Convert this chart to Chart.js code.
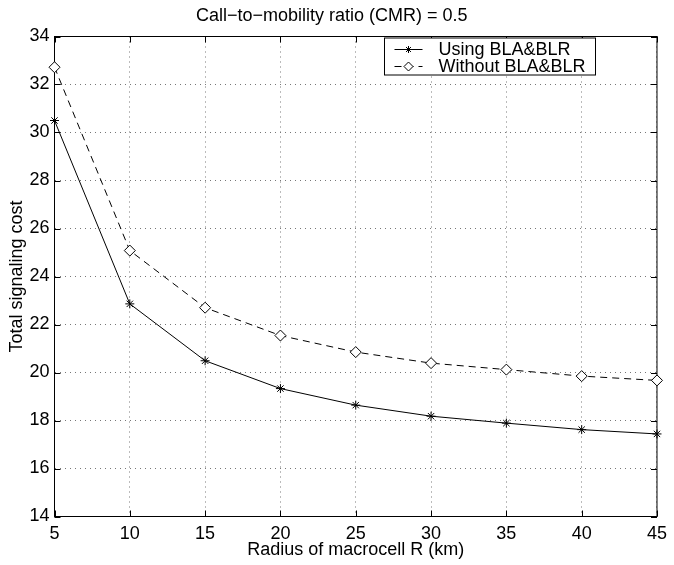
<!DOCTYPE html>
<html><head><meta charset="utf-8">
<script src="https://cdn.jsdelivr.net/npm/chart.js@4/dist/chart.umd.min.js"></script>
<style>html,body{margin:0;padding:0;background:#fff}</style>
</head><body>
<canvas id="c" width="674" height="565"></canvas>
<script>
// ---- data ----
const radius = [5, 10, 15, 20, 25, 30, 35, 40, 45];
const usingBLA = [30.5, 22.86, 20.49, 19.33, 18.64, 18.18, 17.89, 17.62, 17.44];
const withoutBLA = [32.72, 25.08, 22.7, 21.54, 20.85, 20.39, 20.12, 19.85, 19.67];
const xTicks = [5, 10, 15, 20, 25, 30, 35, 40, 45];
const yTicks = [14, 16, 18, 20, 22, 24, 26, 28, 30, 32, 34];
const seriesNames = ['Using BLA&BLR', 'Without BLA&BLR'];
const titleText = 'Call\u2212to\u2212mobility ratio (CMR) = 0.5';
const xTitle = 'Radius of macrocell R (km)';
const yTitle = 'Total signaling cost';

const FONT = '"Liberation Sans", Arial, Helvetica, sans-serif';
const FS = 18;

const framePlugin = {
  id: 'frame',
  beforeDatasetsDraw(chart) {
    const {ctx, chartArea: a, scales} = chart;
    ctx.save();
    ctx.strokeStyle = '#000';
    ctx.lineWidth = 1;
    ctx.setLineDash([]);
    ctx.strokeRect(a.left, a.top, a.right - a.left, a.bottom - a.top);
    const tl = 6;
    ctx.beginPath();
    scales.x.ticks.forEach(t => {
      const px = Math.round(scales.x.getPixelForValue(t.value)) + 0.5;
      ctx.moveTo(px, a.bottom); ctx.lineTo(px, a.bottom - tl);
      ctx.moveTo(px, a.top); ctx.lineTo(px, a.top + tl);
    });
    scales.y.ticks.forEach(t => {
      const py = Math.round(scales.y.getPixelForValue(t.value)) + 0.5;
      ctx.moveTo(a.left, py); ctx.lineTo(a.left + tl, py);
      ctx.moveTo(a.right, py); ctx.lineTo(a.right - tl, py);
    });
    ctx.stroke();
    ctx.restore();
  }
};

const legendPlugin = {
  id: 'boxLegend',
  afterDatasetsDraw(chart) {
    const {ctx, chartArea: a} = chart;
    const bx = a.right - 61.5, by = a.top + 1.5, bw = 211, bh = 37;
    const left = Math.round(bx - bw) + 0.5;
    ctx.save();
    ctx.fillStyle = '#fff';
    ctx.fillRect(left, by, bw, bh);
    ctx.strokeStyle = '#000';
    ctx.lineWidth = 1;
    ctx.strokeRect(left, by, bw, bh);
    ctx.font = FS + 'px ' + FONT;
    ctx.textBaseline = 'middle';
    ctx.textAlign = 'left';
    chart.data.datasets.forEach((ds, i) => {
      const cy = Math.round(by + 11 + i * 16.5) + 0.5;
      const x0 = left + 10, x1 = left + 38, xm = (x0 + x1) / 2;
      ctx.strokeStyle = '#000';
      ctx.lineWidth = 1;
      ctx.setLineDash(ds.borderDash || []);
      ctx.beginPath(); ctx.moveTo(x0, cy); ctx.lineTo(x1, cy); ctx.stroke();
      ctx.setLineDash([]);
      ctx.fillStyle = ds.pointBackgroundColor || '#fff';
      Chart.helpers.drawPoint(ctx, {pointStyle: ds.pointStyle, radius: ds.pointRadius - 1, borderWidth: 1, rotation: 0}, xm, cy);
      ctx.fillStyle = '#000';
      ctx.fillText(ds.label, left + 54, cy + 1);
    });
    ctx.restore();
  }
};

new Chart(document.getElementById('c'), {
  type: 'line',
  data: {
    datasets: [
      {
        label: seriesNames[0],
        data: radius.map((x, i) => ({x, y: usingBLA[i]})),
        borderColor: '#000', borderWidth: 1, tension: 0, fill: false,
        pointStyle: 'star', pointRadius: 4.5, pointBorderColor: '#000',
        pointBackgroundColor: '#000', pointBorderWidth: 1, clip: 10
      },
      {
        label: seriesNames[1],
        data: radius.map((x, i) => ({x, y: withoutBLA[i]})),
        borderColor: '#000', borderWidth: 1, borderDash: [7, 5], tension: 0, fill: false,
        pointStyle: 'rectRot', pointRadius: 5.5, pointBorderColor: '#000',
        pointBackgroundColor: '#fff', pointBorderWidth: 1, clip: 10
      }
    ]
  },
  options: {
    responsive: false,
    animation: false,
    devicePixelRatio: 1,
    layout: {padding: {left: 0, right: 10.5, top: 0, bottom: 0}},
    plugins: {
      legend: {display: false},
      tooltip: {enabled: false},
      title: {
        display: true, text: titleText, color: '#000',
        font: {family: FONT, size: FS, weight: 'normal'},
        padding: {top: 5.2, bottom: 9.7}
      }
    },
    scales: {
      x: {
        type: 'linear', min: 5, max: 45,
        afterBuildTicks: s => { s.ticks = xTicks.map(v => ({value: v})); },
        afterFit: s => { s.height = 48.5; },
        ticks: {color: '#000', font: {family: FONT, size: FS}, padding: 7, maxRotation: 0},
        grid: {color: '#777', lineWidth: 1, drawTicks: false},
        border: {display: false, dash: [1, 4]},
        title: {display: true, text: xTitle, color: '#000', font: {family: FONT, size: FS}, padding: {top: 0, bottom: 4}}
      },
      y: {
        type: 'linear', min: 14, max: 34,
        afterBuildTicks: s => { s.ticks = yTicks.map(v => ({value: v})); },
        afterFit: s => { s.width = 54.5; },
        ticks: {color: '#000', font: {family: FONT, size: FS}, padding: 5},
        grid: {color: '#777', lineWidth: 1, drawTicks: false},
        border: {display: false, dash: [1, 4]},
        title: {display: true, text: yTitle, color: '#000', font: {family: FONT, size: FS}, padding: {top: 6, bottom: 0}}
      }
    }
  },
  plugins: [framePlugin, legendPlugin]
});
</script>
</body></html>
